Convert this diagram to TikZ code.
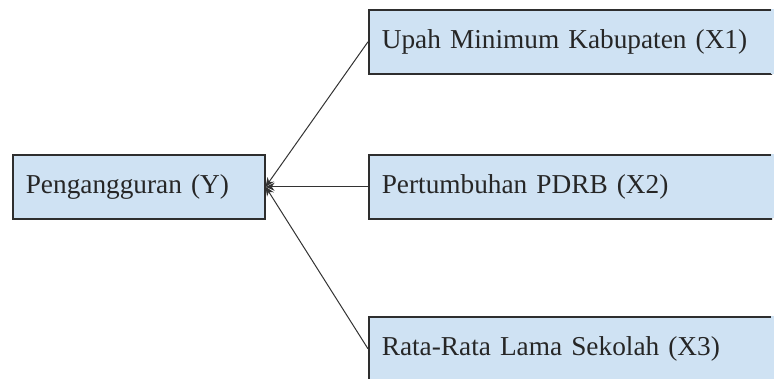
\documentclass[tikz,border=0pt]{standalone}
\usepackage{fontspec}
\setmainfont{Liberation Serif}
\usetikzlibrary{arrows.meta}
\definecolor{boxfill}{HTML}{CFE2F3}
\definecolor{boxline}{HTML}{2E2E2E}
\begin{document}
\begin{tikzpicture}[x=1pt,y=-1pt,
  box/.style={draw=boxline, line width=1.6pt, fill=boxfill, anchor=north west,
    inner xsep=13pt, inner ysep=0pt, minimum height=64pt, align=left,
    font=\fontsize{27.3}{30}\selectfont, text=black!85},
  conn/.style={draw=black!80, line width=1pt, -{Stealth[length=9pt,width=8pt]}}]
\useasboundingbox (0,0) rectangle (774,379);
\node[box, text width=226pt] (y) at (12,154) {Pengangguran (Y)};
\begin{scope}
\clip (0,0) rectangle (772,379);
\node[box, text width=420pt] (x1) at (368,9) {Upah Minimum Kabupaten (X1)};
\node[box, text width=420pt] (x2) at (368,154) {Pertumbuhan PDRB (X2)};
\node[box, text width=420pt] (x3) at (368,316) {Rata-Rata Lama Sekolah (X3)};
\end{scope}
\fill[boxfill] (771,9) rectangle (774,74);
\fill[boxfill] (771,154) rectangle (774,218);
\fill[boxfill] (771,316) rectangle (774,379);
\draw[conn] (x1.west) -- (y.east);
\draw[conn] (x2.west) -- (y.east);
\draw[conn] (x3.west) -- (y.east);
\end{tikzpicture}
\end{document}
